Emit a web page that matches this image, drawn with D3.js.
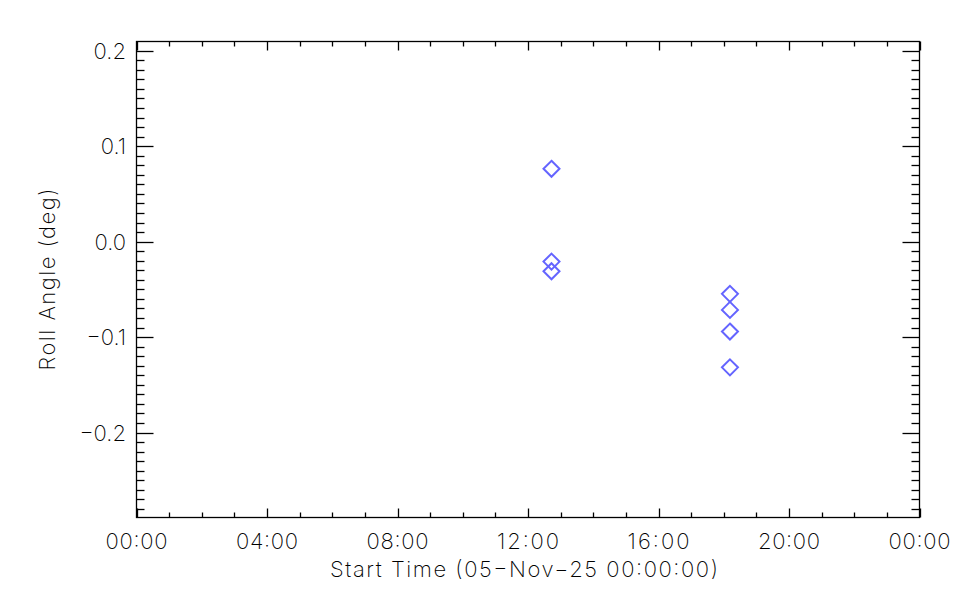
<!DOCTYPE html>
<html><head><meta charset="utf-8">
<script src="https://cdn.jsdelivr.net/npm/d3@7"></script>
<style>body{margin:0;background:#fff}svg{display:block}text{font-family:Inter,"DejaVu Sans",sans-serif;font-weight:200;fill:#000}</style>
</head><body>
<svg id="c" width="960" height="600"></svg>
<script>
// Data: hours after 05-Nov-25 00:00:00, roll angle (deg)
const startHours = [12.72, 12.72, 12.72, 18.19, 18.19, 18.19, 18.19];
const rollAngle  = [0.0763, -0.0209, -0.031, -0.0547, -0.0715, -0.0942, -0.1317];
const xTickLabels = ["00:00","04:00","08:00","12:00","16:00","20:00","00:00"];
const yTickValues = [-0.2, -0.1, 0.0, 0.1, 0.2];

const svg = d3.select("#c");
const L = 136.5, R = 919.5, T = 41.5, B = 517.5;
const x = d3.scaleLinear().domain([0, 24]).range([L, R]);
const y = d3.scaleLinear().domain([-0.289, 0.2097]).range([B, T]);

const g = svg.append("g");
g.append("rect").attr("x", L).attr("y", T).attr("width", R - L).attr("height", B - T)
  .attr("fill", "none").attr("stroke", "#000").attr("stroke-width", 1.3);

const xMajor = d3.range(0, 25, 4), xMinor = d3.range(0, 25, 1).filter(h => h % 4 !== 0);
const yMajor = yTickValues;
const yMinor = d3.range(-28, 21, 1).map(v => v / 100).filter(v => Math.abs(Math.round(v * 100) % 10) !== 0);

function tick(x1, y1, x2, y2) {
  g.append("line").attr("x1", x1).attr("y1", y1).attr("x2", x2).attr("y2", y2)
    .attr("stroke", "#000").attr("stroke-width", 1.3);
}
xMajor.forEach(h => { const px = Math.round(x(h)) + 0.5; tick(px, B, px, B - 9); tick(px, T, px, T + 9); });
xMinor.forEach(h => { const px = Math.round(x(h)) + 0.5; tick(px, B, px, B - 5); tick(px, T, px, T + 5); });
yMajor.forEach(v => { const py = Math.round(y(v)) + 0.5; tick(L, py, L + 17, py); tick(R, py, R - 17, py); });
yMinor.forEach(v => { const py = Math.round(y(v)) + 0.5; tick(L, py, L + 8, py); tick(R, py, R - 8, py); });

xMajor.forEach((h, i) => {
  g.append("text").attr("x", x(h)).attr("y", 549).attr("text-anchor", "middle")
    .attr("font-size", 22).attr("textLength", 62).attr("lengthAdjust", "spacing").text(xTickLabels[i]);
});
yMajor.forEach(v => {
  g.append("text").attr("x", 126).attr("y", y(v) + 8).attr("text-anchor", "end")
    .attr("font-size", 22).text(v === 0 ? "0.0" : (v < 0 ? "\u2212" + d3.format(".1f")(-v) : d3.format(".1f")(v)));
});
g.append("text").attr("x", 330).attr("y", 577)
  .attr("font-size", 22).attr("textLength", 388).attr("lengthAdjust", "spacing")
  .text("Start Time (05\u2212Nov\u221225 00:00:00)");
g.append("text").attr("transform", `translate(55,${(T + B) / 2}) rotate(-90)`).attr("text-anchor", "middle")
  .attr("font-size", 22).attr("textLength", 182).attr("lengthAdjust", "spacing").text("Roll Angle (deg)");

const s = 8;
g.selectAll("path.pt").data(startHours.map((h, i) => [h, rollAngle[i]])).enter().append("path")
  .attr("class", "pt")
  .attr("d", d => { const cx = x(d[0]), cy = y(d[1]); return `M${cx},${cy - s}L${cx + s},${cy}L${cx},${cy + s}L${cx - s},${cy}Z`; })
  .attr("fill", "none").attr("stroke", "#6464ff").attr("stroke-width", 2);
</script>
</body></html>
